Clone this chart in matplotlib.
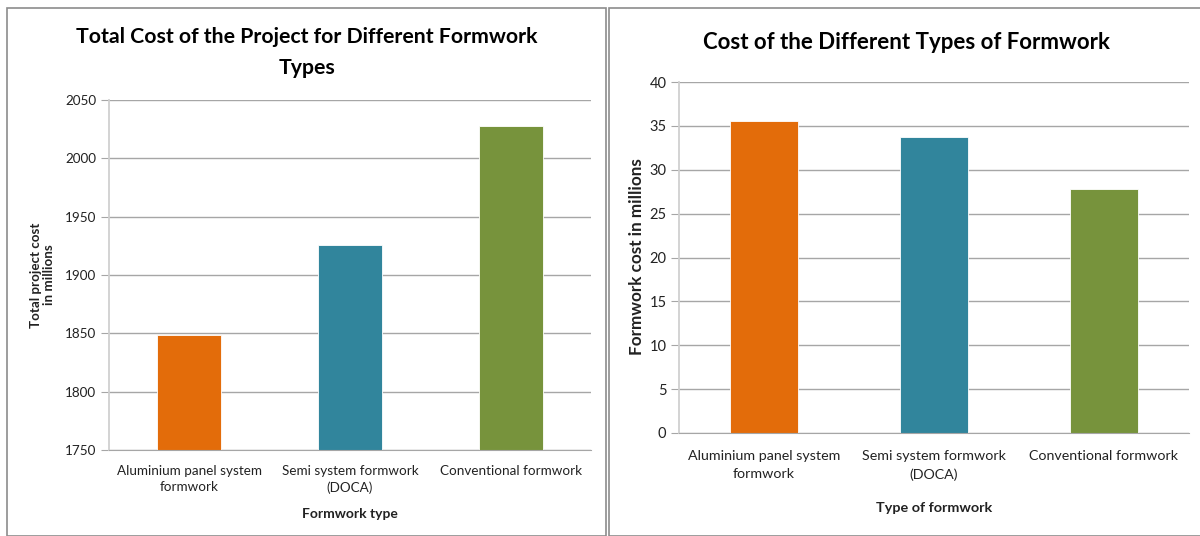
import numpy as np
import matplotlib
matplotlib.use("Agg")
import matplotlib.pyplot as plt
from matplotlib.patches import Rectangle

plt.rcParams['font.family'] = ['Lato', 'DejaVu Sans']

categories = ['Aluminium panel system\nformwork', 'Semi system formwork\n(DOCA)',
              'Conventional formwork']
total_cost = [1849, 1926, 2028]
formwork_cost = [35.6, 33.7, 27.8]
bar_colors = ['#E36C0A', '#31859C', '#77933C']

GRID = '#A6A6A6'
TXT = '#222222'

fig = plt.figure(figsize=(12, 5.36), dpi=100)

# panel frames
W, H = 1200, 536
fig.patches.append(Rectangle((7 / W, 0), 599 / W, 1 - 8 / H, transform=fig.transFigure,
                             fill=False, edgecolor='#8C8C8C', linewidth=1.2))
fig.patches.append(Rectangle((609 / W, 0), 600 / W, 1 - 8 / H, transform=fig.transFigure,
                             fill=False, edgecolor='#8C8C8C', linewidth=1.2))


def style(ax, yticks, fs, pad, lsp):
    x = np.arange(len(categories))
    ax.set_xlim(-0.5, len(categories) - 0.5)
    ax.set_xticks(x)
    ax.set_xticklabels(categories, fontsize=fs, color=TXT, linespacing=lsp)
    ax.set_yticks(yticks)
    ax.tick_params(axis='y', length=6, color=GRID, labelcolor=TXT, pad=3)
    ax.tick_params(axis='x', length=0, pad=pad)
    ax.grid(axis='y', color=GRID, linewidth=1)
    ax.set_axisbelow(True)
    for s in ['top', 'right']:
        ax.spines[s].set_visible(False)
    ax.spines['left'].set_color('#D0D0D0')
    ax.spines['left'].set_linewidth(1.3)
    ax.spines['bottom'].set_color(GRID)


# left: total project cost
ax1 = fig.add_axes([109 / W, 1 - 450 / H, 482 / W, 350 / H])
x = np.arange(len(categories))
ax1.bar(x, total_cost, width=0.4, color=bar_colors, edgecolor='white', linewidth=0.6)
ax1.set_ylim(1750, 2050)
style(ax1, np.arange(1750, 2051, 50), 9.7, 10.5, 1.45)
ax1.tick_params(axis='y', labelsize=9.7)
ax1.set_xlabel('Formwork type', fontsize=10, fontweight='bold', color=TXT, va='center')
ax1.xaxis.set_label_coords(0.5, -0.183)
ax1.set_ylabel('Total project cost\nin millions', fontsize=9.6, fontweight='bold',
               color=TXT, va='center', linespacing=1.1)
ax1.yaxis.set_label_coords(-0.137, 0.5)
fig.text(307 / W, 1 - 52.5 / H, 'Total Cost of the Project for Different Formwork\nTypes',
         ha='center', va='center', fontsize=15.3, fontweight='bold', color='black',
         linespacing=1.65)

# right: formwork cost
ax2 = fig.add_axes([679 / W, 1 - 433 / H, 510 / W, 351 / H])
ax2.bar(x, formwork_cost, width=0.4, color=bar_colors, edgecolor='white', linewidth=0.6)
ax2.set_ylim(0, 40)
style(ax2, np.arange(0, 41, 5), 10.3, 12.5, 1.55)
ax2.tick_params(axis='y', labelsize=10.5)
ax2.set_xlabel('Type of formwork', fontsize=10.4, fontweight='bold', color=TXT, va='center')
ax2.xaxis.set_label_coords(0.5, -0.214)
ax2.set_ylabel('Formwork cost in millions', fontsize=12.3, fontweight='bold',
               color=TXT, va='center')
ax2.yaxis.set_label_coords(-0.082, 0.504)
fig.text(906 / W, 1 - 42 / H, 'Cost of the Different Types of Formwork',
         ha='center', va='center', fontsize=16, fontweight='bold', color='black')

fig.savefig('out.png', dpi=100, facecolor='white')
